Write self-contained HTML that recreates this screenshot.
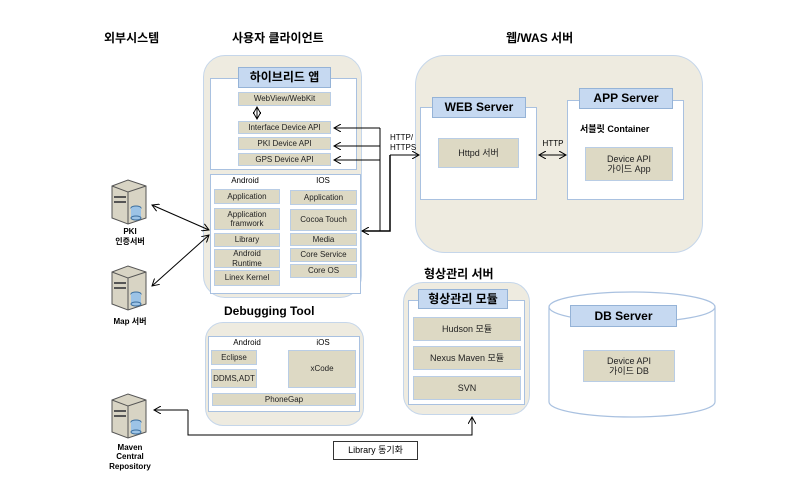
<!DOCTYPE html>
<html><head><meta charset="utf-8"><style>
body{margin:0;width:800px;height:500px;background:#fff;position:relative;overflow:hidden;font-family:"Liberation Sans","Noto Sans CJK KR",sans-serif;}
div{position:absolute;box-sizing:border-box}
.t{font-weight:bold;font-size:12px;color:#000;white-space:nowrap}
.rr{background:#eeebe0;border:1.5px solid #c5d6ea}
.w{background:#fff;border:1px solid #a9c1e0}
.h{background:#c6d9f1;border:1px solid #95b3d7;font-weight:bold;text-align:center;font-size:12px}
.b{background:#ddd9c4;border:1px solid #b9cde5;text-align:center;font-size:8px;color:#222;display:flex;align-items:center;justify-content:center;line-height:1.15}
.s{font-size:8px;text-align:center;white-space:nowrap}
</style></head><body>
<div class="t" style="left:104px;top:29px">외부시스템</div>
<div class="t" style="left:232px;top:29px">사용자 클라이언트</div>
<div class="t" style="left:506px;top:29px">웹/WAS 서버</div>
<div class="t" style="left:424px;top:265px">형상관리 서버</div>
<div class="t" style="left:224px;top:304px">Debugging Tool</div>

<div class="rr" style="left:203px;top:55px;width:159px;height:243px;border-radius:22px"></div>
<div class="w" style="left:210px;top:78px;width:147px;height:92px"></div>
<div class="h" style="left:238px;top:67px;width:93px;height:21px;line-height:19px">하이브리드 앱</div>
<div class="b" style="left:238px;top:92px;width:93px;height:14px">WebView/WebKit</div>
<div class="b" style="left:238px;top:121px;width:93px;height:13px">Interface Device API</div>
<div class="b" style="left:238px;top:137px;width:93px;height:13px">PKI Device API</div>
<div class="b" style="left:238px;top:153px;width:93px;height:13px">GPS Device API</div>
<div class="w" style="left:210px;top:174px;width:151px;height:120px"></div>
<div class="s" style="left:230px;top:176px;width:30px">Android</div>
<div class="s" style="left:313px;top:176px;width:20px">IOS</div>
<div class="b" style="left:214px;top:189px;width:66px;height:15px">Application</div>
<div class="b" style="left:214px;top:208px;width:66px;height:22px">Application<br>framwork</div>
<div class="b" style="left:214px;top:233px;width:66px;height:14px">Library</div>
<div class="b" style="left:214px;top:249px;width:66px;height:19px">Android<br>Runtime</div>
<div class="b" style="left:214px;top:270px;width:66px;height:16px">Linex Kernel</div>
<div class="b" style="left:290px;top:190px;width:67px;height:15px">Application</div>
<div class="b" style="left:290px;top:209px;width:67px;height:22px">Cocoa Touch</div>
<div class="b" style="left:290px;top:233px;width:67px;height:13px">Media</div>
<div class="b" style="left:290px;top:248px;width:67px;height:14px">Core Service</div>
<div class="b" style="left:290px;top:264px;width:67px;height:14px">Core OS</div>

<div class="rr" style="left:415px;top:55px;width:288px;height:198px;border-radius:30px"></div>
<div class="w" style="left:420px;top:107px;width:117px;height:93px"></div>
<div class="h" style="left:432px;top:97px;width:94px;height:21px;line-height:19px">WEB Server</div>
<div class="b" style="left:438px;top:138px;width:81px;height:30px;font-size:9px">Httpd 서버</div>
<div class="w" style="left:567px;top:100px;width:117px;height:100px"></div>
<div class="h" style="left:579px;top:88px;width:94px;height:21px;line-height:19px">APP Server</div>
<div class="s" style="left:580px;top:122px;font-weight:bold;font-size:9px;text-align:left">서블릿 Container</div>
<div class="b" style="left:585px;top:147px;width:88px;height:34px;font-size:9px">Device API<br>가이드 App</div>
<div class="s" style="left:540px;top:139px;width:26px">HTTP</div>
<div class="s" style="left:390px;top:133px;text-align:left;line-height:10px">HTTP/<br>HTTPS</div>

<div class="rr" style="left:403px;top:282px;width:127px;height:133px;border-radius:20px"></div>
<div class="w" style="left:408px;top:300px;width:117px;height:105px"></div>
<div class="h" style="left:418px;top:289px;width:90px;height:20px;line-height:18px">형상관리 모듈</div>
<div class="b" style="left:413px;top:317px;width:108px;height:24px;font-size:9px">Hudson 모듈</div>
<div class="b" style="left:413px;top:346px;width:108px;height:24px;font-size:9px">Nexus Maven 모듈</div>
<div class="b" style="left:413px;top:376px;width:108px;height:24px;font-size:9px">SVN</div>

<div class="rr" style="left:205px;top:322px;width:159px;height:104px;border-radius:18px"></div>
<div class="w" style="left:208px;top:336px;width:152px;height:76px"></div>
<div class="s" style="left:232px;top:338px;width:30px">Android</div>
<div class="s" style="left:313px;top:338px;width:20px">iOS</div>
<div class="b" style="left:211px;top:350px;width:46px;height:15px">Eclipse</div>
<div class="b" style="left:211px;top:369px;width:46px;height:19px">DDMS,ADT</div>
<div class="b" style="left:288px;top:350px;width:68px;height:38px">xCode</div>
<div class="b" style="left:212px;top:393px;width:144px;height:13px">PhoneGap</div>

<div style="left:333px;top:441px;width:85px;height:19px;border:1px solid #333;font-size:9px;text-align:center;line-height:17px">Library 동기화</div>

<svg style="position:absolute;left:0;top:0" width="800" height="500">
<defs><marker id="a" markerWidth="8" markerHeight="8" refX="7" refY="4" orient="auto-start-reverse" markerUnits="userSpaceOnUse"><path d="M0,0 L7,4 L0,8" fill="none" stroke="#000" stroke-width="1"/></marker></defs>
<path d="M549,307 L549,402 A83,15 0 0 0 715,402 L715,307" fill="#fff" stroke="#a9c1e0" stroke-width="1.2"/>
<ellipse cx="632" cy="307" rx="83" ry="15" fill="#fff" stroke="#a9c1e0" stroke-width="1.2"/>
<g fill="none" stroke="#000" stroke-width="1">
<path d="M257,107 L257,119" marker-start="url(#a)" marker-end="url(#a)"/>
<path d="M380,128 L334,128" marker-end="url(#a)"/>
<path d="M380,146 L334,146" marker-end="url(#a)"/>
<path d="M380,160 L334,160" marker-end="url(#a)"/>
<path d="M380,128 L380,231"/>
<path d="M390,155 L390,231 L362,231" marker-end="url(#a)" stroke-width="1.5"/>
<path d="M390,155 L419,155" marker-end="url(#a)"/>
<path d="M539,155 L566,155" marker-start="url(#a)" marker-end="url(#a)"/>
<path d="M152,205 L209,230" marker-start="url(#a)" marker-end="url(#a)"/>
<path d="M152,286 L209,235" marker-start="url(#a)" marker-end="url(#a)"/>
<path d="M188,410 L188,435 L472,435 L472,417" marker-end="url(#a)"/>
<path d="M188,410 L154,410" marker-end="url(#a)"/>
</g>
<g id="srv">
<path d="M112,186 L128,180 L146,186 L146,218 L128,224 L112,218 Z" fill="#d8d4c4" stroke="#555"/>
<path d="M112,186 L128,192 L146,186" fill="none" stroke="#555"/>
<path d="M128,192 L128,224" stroke="#555"/>
<rect x="114" y="196" width="12" height="2" fill="#555"/><rect x="114" y="201" width="12" height="2" fill="#555"/>
<ellipse cx="136" cy="208" rx="5" ry="2" fill="#9cc3e6" stroke="#3b6e9e"/>
<rect x="131" y="208" width="10" height="10" fill="#9cc3e6"/>
<ellipse cx="136" cy="218" rx="5" ry="2" fill="#9cc3e6" stroke="#3b6e9e"/>
</g>
<use href="#srv" x="0" y="86"/>
<use href="#srv" x="0" y="214"/>
<g font-family="Liberation Sans,Noto Sans CJK KR,sans-serif" font-size="8" font-weight="bold" text-anchor="middle">
<text x="130" y="234">PKI</text><text x="130" y="244">인증서버</text>
<text x="130" y="324">Map 서버</text>
<text x="130" y="450">Maven</text><text x="130" y="459">Central</text><text x="130" y="469">Repository</text>
</g>
</svg>
<div class="h" style="left:570px;top:305px;width:107px;height:22px;line-height:20px">DB Server</div>
<div class="b" style="left:583px;top:350px;width:92px;height:32px;font-size:9px">Device API<br>가이드 DB</div>
</body></html>
